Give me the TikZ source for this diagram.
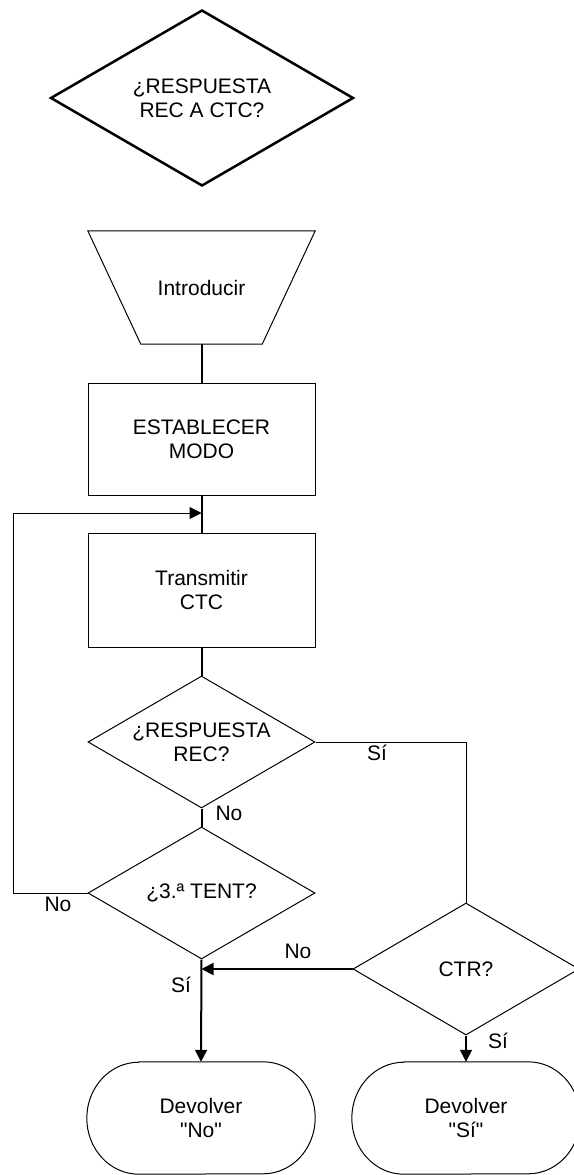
\documentclass[tikz,border=0pt]{standalone}
\usepackage{fontspec}
\newfontfamily\libsans{Liberation Sans}
\usetikzlibrary{shapes.geometric,arrows.meta}
\begin{document}
\begin{tikzpicture}[x=1pt,y=-1pt,
  every node/.style={font=\libsans\fontsize{21}{24}\selectfont, align=center},
  thin line/.style={line width=1pt},
  thick line/.style={line width=2pt},
  box/.style={draw, thin line, rectangle, minimum width=227pt, inner sep=0pt},
  dec/.style={draw, thin line, diamond, minimum width=227pt, minimum height=132pt, inner sep=0pt},
  ghost/.style={rectangle, inner sep=0pt},
  tip/.style={-{Triangle[length=12pt,width=12pt]}},
  lab/.style={inner sep=0pt}
]
\useasboundingbox (0,0) rectangle (573,1175);

% top decision
\node[draw, diamond, line width=2.5pt, minimum width=303pt, minimum height=176pt, inner sep=0pt,
  label={[lab]center:{¿RESPUESTA\\REC A CTC?}}] (top) at (202,98) {};

% input trapezium
\node[ghost, minimum width=227pt, minimum height=113pt] (intro) at (201.5,287.5) {Introducir};
\draw[thin line] (intro.north west) -- (intro.north east) -- ([xshift=-53pt]intro.south east)
  -- ([xshift=53pt]intro.south west) -- cycle;

\node[box, minimum height=112pt] (estab) at (201.5,439) {ESTABLECER\\MODO};
\node[box, minimum height=114pt] (trans) at (201.5,590) {Transmitir\\CTC};

\node[dec, label={[lab]center:{¿RESPUESTA\\REC?}}] (resp) at (201.5,742) {};
\node[dec, label={[lab]center:{¿3.ª TENT?}}] (tent) at (201.5,893) {};
\node[dec, minimum width=226pt, label={[lab]center:{CTR?}}] (ctr) at (466,969) {};

% terminals
\node[ghost, minimum width=228pt, minimum height=112pt] (tno) at (201,1118) {Devolver\\"No"};
\node[ghost, minimum width=228pt, minimum height=112pt] (tsi) at (466,1118) {Devolver\\"Sí"};
\foreach \t in {tno,tsi}{
  \draw[thin line] ([xshift=52pt]\t.north west) -- ([xshift=-52pt]\t.north east)
    arc[start angle=90,end angle=-90,x radius=52pt,y radius=56pt]
    -- ([xshift=52pt]\t.south west)
    arc[start angle=270,end angle=90,x radius=52pt,y radius=56pt] -- cycle;
}

% junction points
\coordinate (j1) at (201.5,513);
\coordinate (j2) at (201.5,969);

% connectors
\draw[thick line] (intro.south) -- (estab.north);
\draw[thick line] (estab.south) -- (trans.north);
\draw[thick line] (trans.south) -- (resp.north);
\draw[thick line] (resp.south) -- (tent.north);
\draw[thin line, tip] (tent.west) -- (13,893) |- (j1);
\draw[thin line] (resp.east) -| (ctr.north);
\draw[thick line, tip] (ctr.west) -- (j2);
\draw[thick line, tip] (tent.south) -- (tno.north);
\draw[line width=1.3pt, tip] (ctr.south) -- (tsi.north);

% labels
\node[lab] (lno1) at (229,813) {No};
\node[lab] (lsi1) at (377,753) {Sí};
\node[lab] (lno2) at (58,904) {No};
\node[lab] (lsi2) at (181,985) {Sí};
\node[lab] (lno3) at (298,951) {No};
\node[lab] (lsi3) at (498,1041) {Sí};
\end{tikzpicture}
\end{document}
